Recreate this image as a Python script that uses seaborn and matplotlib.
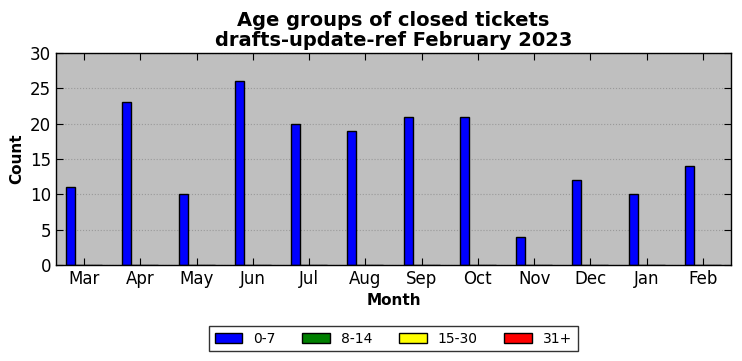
import pandas as pd
import numpy as np
import matplotlib
matplotlib.use("Agg")
import matplotlib.pyplot as plt
import seaborn as sns

months = ["Mar", "Apr", "May", "Jun", "Jul", "Aug", "Sep", "Oct", "Nov", "Dec", "Jan", "Feb"]
age_0_7 = [11, 23, 10, 26, 20, 19, 21, 21, 4, 12, 10, 14]
age_8_14 = [0, 0, 0, 0, 0, 0, 0, 0, 0, 0, 0, 0]
age_15_30 = [0, 0, 0, 0, 0, 0, 0, 0, 0, 0, 0, 0]
age_31 = [0, 0, 0, 0, 0, 0, 0, 0, 0, 0, 0, 0]
groups = ["0-7", "8-14", "15-30", "31+"]
colors = ["blue", "green", "yellow", "red"]

data = pd.DataFrame({
    "Month": months * 4,
    "Count": age_0_7 + age_8_14 + age_15_30 + age_31,
    "Age": [g for g in groups for _ in months],
})

sns.set_style("ticks")
plt.rcParams["font.family"] = ["DejaVu Sans"]
plt.rcParams["xtick.direction"] = "in"
plt.rcParams["ytick.direction"] = "in"
plt.rcParams["text.color"] = "black"
plt.rcParams["axes.labelcolor"] = "black"
plt.rcParams["xtick.color"] = "black"
plt.rcParams["ytick.color"] = "black"

fig = plt.figure(figsize=(7.42, 3.61), dpi=100)
ax = fig.add_axes([56 / 742, 1 - 265 / 361, 675 / 742, 212 / 361])
ax.set_facecolor("#bfbfbf")

sns.barplot(
    data=data,
    x="Month",
    y="Count",
    hue="Age",
    palette=colors,
    width=0.64,
    edgecolor="black",
    linewidth=1,
    saturation=1,
    ax=ax,
)

ax.set_xlim(-0.5, 11.5)
ax.set_ylim(0, 30)
ax.set_yticks(range(0, 31, 5))
ax.yaxis.grid(True, linestyle=":", color="#999999", linewidth=0.8)
ax.set_axisbelow(True)
ax.tick_params(axis="both", labelsize=12, top=True, right=True, length=5, width=0.8)
for s in ax.spines.values():
    s.set_color("black")
    s.set_linewidth(1)

ax.set_title("Age groups of closed tickets\ndrafts-update-ref February 2023",
             fontsize=14, fontweight="bold", linespacing=1.1, pad=5)
ax.set_xlabel("Month", fontsize=11, fontweight="bold")
ax.set_ylabel("Count", fontsize=11, fontweight="bold")

ax.legend(loc="upper center", bbox_to_anchor=(0.5, -0.255), ncol=4, fontsize=10,
          frameon=True, fancybox=False, edgecolor="black", handlelength=2.0,
          handletextpad=0.8, columnspacing=1.9, title=None).get_frame().set_linewidth(1)

fig.savefig("out.png", dpi=100)
